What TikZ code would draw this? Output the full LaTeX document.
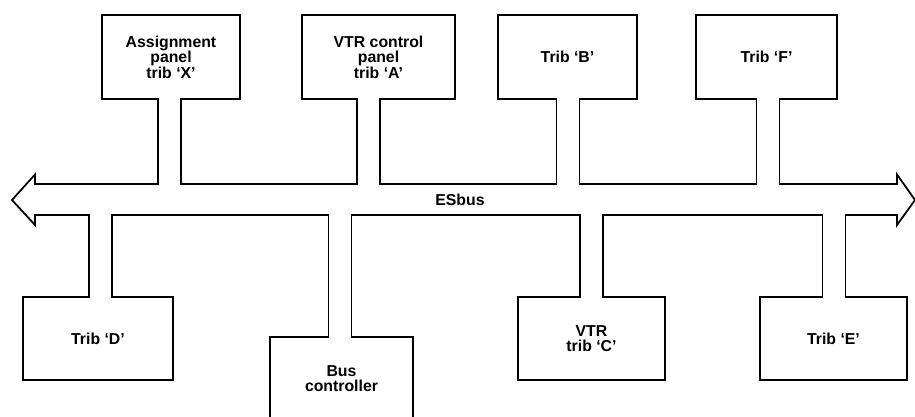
\documentclass[tikz,border=0pt]{standalone}
\usepackage{fontspec}
\setsansfont{Liberation Sans}
\usetikzlibrary{positioning,calc}

\begin{document}
\begin{tikzpicture}[
  x=0.3mm, y=-0.3mm,
  every node/.style={font=\sffamily\bfseries\fontsize{13.5}{13.2}\selectfont},
  trib/.style={
    draw, fill=white, line width=1.5pt, outer sep=0pt, align=center,
    minimum height=25.2mm,
  },
  stub/.style={line width=1.5pt, line cap=rect},
  busline/.style={line width=1.5pt, fill=white, line join=miter},
]
  \useasboundingbox (0,0) rectangle (915,416);
  \clip (0,0) rectangle (915,416);

  % ESbus (hollow double arrow)
  \draw[busline] (12,200) -- (35,174.5) -- (35,184) -- (897,184) -- (897,174.5)
    -- (915,200) -- (897,225) -- (897,215) -- (35,215) -- (35,225) -- cycle;
  \coordinate (bustop) at (0,184);
  \coordinate (busbot) at (0,215);
  \node (bus) at (460,200) {ESbus};

  % Tribs above the bus
  \node[trib, minimum width=41.4mm] (tribX) at (171,57) {Assignment\\panel\\trib `X'};
  \node[trib, minimum width=45.9mm, right=18.6mm of tribX] (tribA) {VTR control\\panel\\trib `A'};
  \node[trib, minimum width=41.7mm, right=12.9mm of tribA] (tribB) {Trib `B'};
  \node[trib, minimum width=42.3mm, right=17.7mm of tribB] (tribF) {Trib `F'};

  % Tribs below the bus
  \node[trib, minimum width=45mm, minimum height=24.9mm] (tribD) at (98,338.5) {Trib `D'};
  \node[trib, minimum width=42.9mm, minimum height=24.9mm] (busctl) at (341.5,378.5) {Bus\\controller};
  \node[trib, minimum width=44.1mm, minimum height=24.9mm] (tribC) at (591.5,338.5) {VTR\\trib `C'};
  \node[trib, minimum width=44.1mm, minimum height=24.9mm, right=28.5mm of tribC] (tribE) {Trib `E'};

  % stubs into the bus
  \foreach \n/\a/\dx/\lvl/\ea/\eb in {
      tribX/south/-1.5/bustop/-1.5/1.5, tribA/south/-10/bustop/-1.5/1.5,
      tribB/south/0.5/bustop/-1.5/1.5, tribF/south/1.5/bustop/-1.5/1.5,
      tribD/north/2.5/busbot/1.5/-1.5, busctl/north/-1.5/busbot/1.5/-1.5,
      tribC/north/0/busbot/1.5/-1.5, tribE/north/0.5/busbot/1.5/-1.5} {
    \fill[white] ($(\n.\a)+(\dx-11.5,\ea)$) rectangle ($(\n.\a |- \lvl)+(\dx+11.5,\eb)$);
    \draw[stub] ($(\n.\a)+(\dx-11.5,0)$) -- ($(\n.\a |- \lvl)+(\dx-11.5,0)$);
    \draw[stub] ($(\n.\a)+(\dx+11.5,0)$) -- ($(\n.\a |- \lvl)+(\dx+11.5,0)$);
  }
\end{tikzpicture}
\end{document}
